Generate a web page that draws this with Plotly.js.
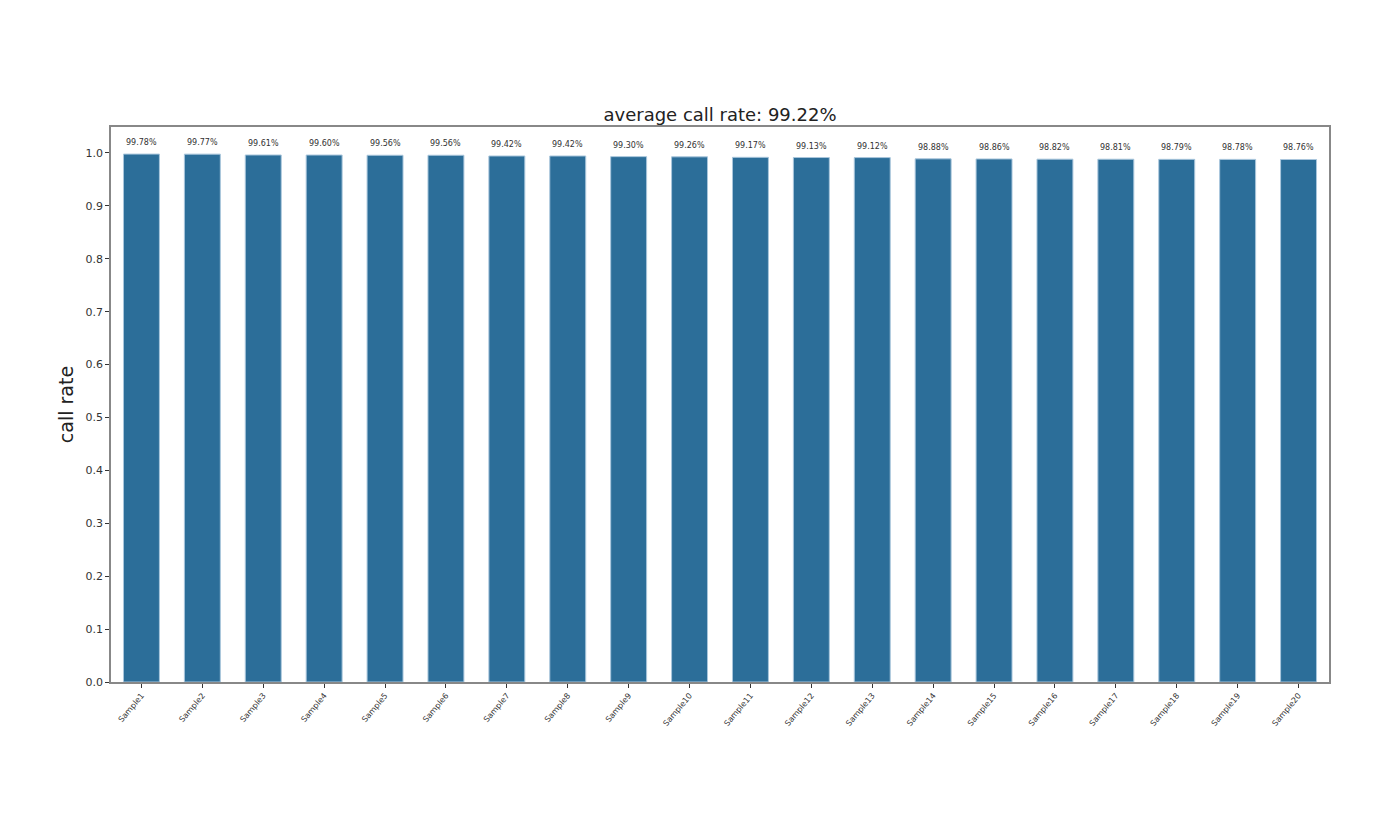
<!DOCTYPE html>
<html>
<head>
<meta charset="utf-8">
<script src="https://cdn.plot.ly/plotly-3.0.1.min.js"></script>
<style>
  html, body { margin: 0; padding: 0; background: #fff; }
  #my_graph { width: 1383px; height: 837px; }
</style>
</head>
<body>
<div id="my_graph"></div>
<script>
const samples = ['Sample1', 'Sample2', 'Sample3', 'Sample4', 'Sample5', 'Sample6', 'Sample7', 'Sample8', 'Sample9', 'Sample10',
                 'Sample11', 'Sample12', 'Sample13', 'Sample14', 'Sample15', 'Sample16', 'Sample17', 'Sample18', 'Sample19', 'Sample20'];

// call rate in percent
const callRate = [99.78, 99.77, 99.61, 99.60, 99.56, 99.56, 99.42, 99.42, 99.30, 99.26,
                  99.17, 99.13, 99.12, 98.88, 98.86, 98.82, 98.81, 98.79, 98.78, 98.76];

const yTicks = [0.0, 0.1, 0.2, 0.3, 0.4, 0.5, 0.6, 0.7, 0.8, 0.9, 1.0];

const rate = callRate.map(v => v / 100);
const avg = callRate.reduce((a, b) => a + b, 0) / callRate.length;

var trace1 = {
    type: 'bar',
    x: samples,
    y: rate,
    marker: {
        color: '#2c6e99',
        line: {color: '#a9c6dc', width: 1}
    },
    hoverinfo: 'x+y'
};

// value labels sit a little above each bar
const labels = samples.map((s, i) => ({
    x: s,
    y: rate[i],
    xref: 'x',
    yref: 'y',
    text: callRate[i].toFixed(2) + '%',
    showarrow: false,
    yanchor: 'bottom',
    yshift: 5,
    font: {size: 8, color: '#333', family: 'DejaVu Sans'}
}));

const layout = {
    width: 1383,
    height: 837,
    margin: {l: 111, r: 54, t: 127, b: 155},
    paper_bgcolor: '#fff',
    plot_bgcolor: '#fff',
    showlegend: false,
    bargap: 0.41,
    font: {family: 'DejaVu Sans', color: '#333'},
    title: {
        text: 'average call rate: ' + avg.toFixed(2) + '%',
        font: {size: 18, color: '#222'},
        x: 0.5, xref: 'paper', xanchor: 'center',
        y: 1, yref: 'paper', yanchor: 'bottom',
        pad: {b: 6}
    },
    xaxis: {
        type: 'category',
        range: [-0.5, 19.5],
        tickangle: -50,
        tickfont: {size: 8, color: '#333'},
        ticks: 'outside',
        ticklen: 4,
        tickcolor: '#333',
        showgrid: false,
        showline: true,
        linecolor: '#888',
        linewidth: 1.5,
        mirror: true,
        zeroline: false
    },
    yaxis: {
        range: [0, 1.049],
        tickvals: yTicks,
        ticktext: yTicks.map(v => v.toFixed(1)),
        tickfont: {size: 11, color: '#333'},
        ticks: 'outside',
        ticklen: 4,
        tickcolor: '#333',
        showgrid: false,
        showline: true,
        linecolor: '#888',
        linewidth: 1.5,
        mirror: true,
        zeroline: false,
        title: {text: 'call rate', font: {size: 19, color: '#222'}, standoff: 7}
    },
    annotations: labels
};

const config = {responsive: false, displayModeBar: false};

Plotly.newPlot('my_graph', [trace1], layout, config);
</script>
</body>
</html>
